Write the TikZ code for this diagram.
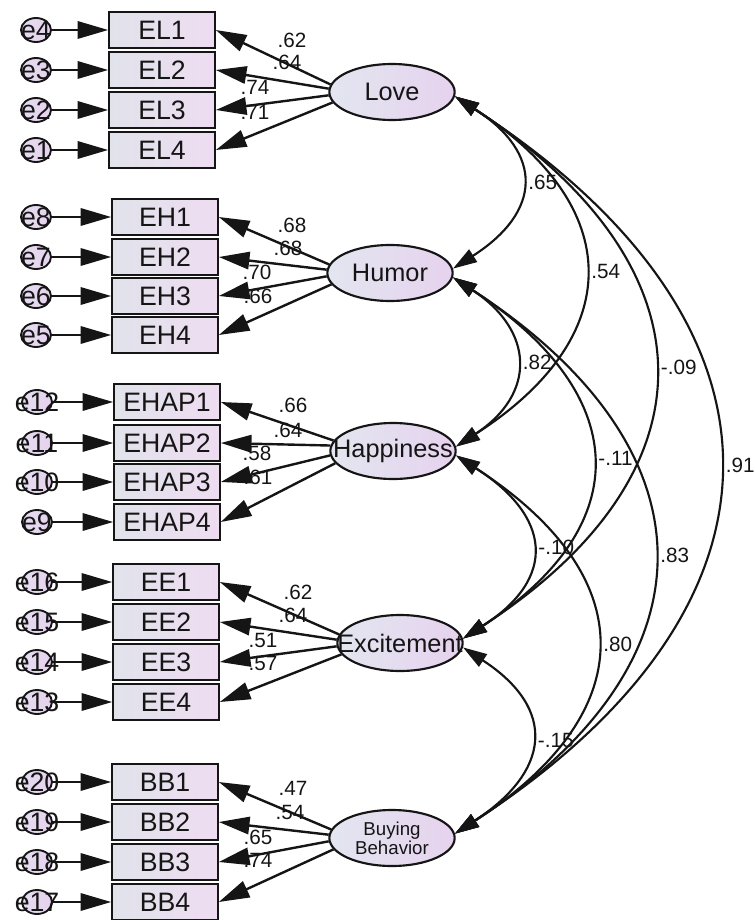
\documentclass[tikz,border=0pt]{standalone}
\usepackage{fontspec}
\setmainfont{Liberation Sans}
\usetikzlibrary{arrows.meta,shapes.geometric}
\definecolor{boxL}{HTML}{E1E3EB}
\definecolor{boxR}{HTML}{EEDCF1}
\definecolor{latL}{HTML}{E3E6F0}
\definecolor{latR}{HTML}{E6D2EE}
\definecolor{ink}{HTML}{151515}
\begin{document}
\begin{tikzpicture}[x=0.75pt,y=-0.75pt,
  obs/.style={draw=ink, line width=1.7pt, rectangle, minimum width=79pt, minimum height=27.5pt, inner sep=0pt, left color=boxL, right color=boxR, font=\fontsize{20}{22}\selectfont, text=ink},
  lat/.style={draw=ink, line width=1.6pt, ellipse, minimum width=94pt, minimum height=42pt, inner sep=0pt, left color=latL, right color=latR},
  errc/.style={draw=ink, line width=1.4pt, ellipse, minimum width=22.5pt, minimum height=18pt, inner sep=0pt, left color=latL!50!latR, right color=latR},
  ltxt/.style={font=\fontsize{19}{21}\selectfont, text=ink, inner sep=0pt},
  btxt/.style={font=\fontsize{14}{14}\selectfont, text=ink, inner sep=0pt, align=center},
  etxt/.style={font=\fontsize{20}{22}\selectfont, text=ink, inner sep=0pt},
  num/.style={font=\fontsize{15.5}{17}\selectfont, text=ink, inner sep=1pt},
  cnum/.style={num, anchor=west, xshift=4pt},
  load/.style={draw=ink, line width=1.8pt, -{Triangle[length=23pt,width=13pt]}},
  err/.style={draw=ink, line width=1.8pt, -{Triangle[length=23pt,width=13pt]}},
  cov/.style={draw=ink, line width=1.6pt, {Triangle[length=18pt,width=11pt]}-{Triangle[length=18pt,width=11pt]}}
]
\useasboundingbox (0,0) rectangle (755,920);

% latent variables
\node[lat, label={[ltxt]center:Love}] (love) at (392,92) {};
\node[lat, label={[ltxt]center:Humor}] (humor) at (390,273) {};
\node[lat, label={[ltxt]center:Happiness}] (happ) at (393,451) {};
\node[lat, label={[ltxt]center:Excitement}] (exc) at (400,643) {};
\node[lat, label={[btxt]center:{Buying\\Behavior}}] (bb) at (392,838) {};

% Love indicators
\foreach \i/\y/\e/\a in {1/30/4/173, 2/70/3/177, 3/110/2/183, 4/150/1/190} {
  \node[obs] (EL\i) at (162,\y) {EL\i};
  \node[errc, label={[etxt]center:e\e}] (e\e) at (36,\y) {};
  \draw[err] (e\e) -- (EL\i);
  \draw[load] (love.\a) -- (EL\i.east);
}
% Humor indicators
\foreach \i/\y/\e/\a in {1/217/8/172, 2/257/7/177, 3/296/6/183, 4/335/5/191} {
  \node[obs] (EH\i) at (165,\y) {EH\i};
  \node[errc, label={[etxt]center:e\e}] (e\e) at (36,\y) {};
  \draw[err] (e\e) -- (EH\i);
  \draw[load] (humor.\a) -- (EH\i.east);
}
% Happiness indicators
\foreach \i/\y/\e/\a in {1/402/12/170, 2/443/11/175, 3/482/10/184, 4/522/9/192} {
  \node[obs] (EHAP\i) at (167,\y) {EHAP\i};
  \node[errc, label={[etxt]center:e\e}] (e\e) at (37,\y) {};
  \draw[err] (e\e) -- (EHAP\i);
  \draw[load] (happ.\a) -- (EHAP\i.east);
}
% Excitement indicators
\foreach \i/\y/\e/\a in {1/582/16/172, 2/622/15/177, 3/662/14/183, 4/702/13/191} {
  \node[obs] (EE\i) at (166,\y) {EE\i};
  \node[errc, label={[etxt]center:e\e}] (e\e) at (37,\y) {};
  \draw[err] (e\e) -- (EE\i);
  \draw[load] (exc.\a) -- (EE\i.east);
}
% Buying Behavior indicators
\foreach \i/\y/\e/\a in {1/782/20/172, 2/822/19/177, 3/862/18/183, 4/902/17/191} {
  \node[obs] (BB\i) at (165,\y) {BB\i};
  \node[errc, label={[etxt]center:e\e}] (e\e) at (37,\y) {};
  \draw[err] (e\e) -- (BB\i);
  \draw[load] (bb.\a) -- (BB\i.east);
}

% loading values
\node[num] (nL1) at (292,40) {.62};
\node[num] (nL2) at (287,62) {.64};
\node[num] (nL3) at (255,87) {.74};
\node[num] (nL4) at (255,112) {.71};
\node[num] (nH1) at (292,225) {.68};
\node[num] (nH2) at (288,248) {.68};
\node[num] (nH3) at (257,272) {.70};
\node[num] (nH4) at (258,296) {.66};
\node[num] (nP1) at (293,405) {.66};
\node[num] (nP2) at (288,430) {.64};
\node[num] (nP3) at (257,453) {.58};
\node[num] (nP4) at (258,477) {.61};
\node[num] (nE1) at (298,592) {.62};
\node[num] (nE2) at (293,615) {.64};
\node[num] (nE3) at (263,640) {.51};
\node[num] (nE4) at (263,663) {.57};
\node[num] (nB1) at (293,788) {.47};
\node[num] (nB2) at (290,812) {.54};
\node[num] (nB3) at (258,837) {.65};
\node[num] (nB4) at (258,860) {.74};

% covariances
\draw[cov] (love.-4) .. controls +(89,57) and +(89,-57) .. (humor.4) node[cnum, pos=.5] (cLH) {.65};
\draw[cov] (love.-4) .. controls +(171,110) and +(171,-110) .. (happ.4) node[cnum, pos=.5] (cLP) {.54};
\draw[cov] (love.-4) .. controls +(259,168) and +(259,-168) .. (exc.4) node[cnum, pos=.5] (cLE) {-.09};
\draw[cov] (love.-4) .. controls +(351,228) and +(351,-228) .. (bb.4) node[cnum, pos=.5] (cLB) {.91};
\draw[cov] (humor.-4) .. controls +(81,53) and +(81,-53) .. (happ.4) node[cnum, pos=.5] (cHP) {.82};
\draw[cov] (humor.-4) .. controls +(177,115) and +(177,-115) .. (exc.4) node[cnum, pos=.5] (cHE) {-.11};
\draw[cov] (humor.-4) .. controls +(265,172) and +(265,-172) .. (bb.4) node[cnum, pos=.5] (cHB) {.83};
\draw[cov] (happ.-4) .. controls +(95,61) and +(95,-61) .. (exc.4) node[cnum, pos=.5] (cPE) {-.10};
\draw[cov] (happ.-4) .. controls +(187,121) and +(187,-121) .. (bb.4) node[cnum, pos=.5] (cPB) {.80};
\draw[cov] (exc.-4) .. controls +(95,62) and +(95,-62) .. (bb.4) node[cnum, pos=.5] (cEB) {-.15};
\end{tikzpicture}
\end{document}
